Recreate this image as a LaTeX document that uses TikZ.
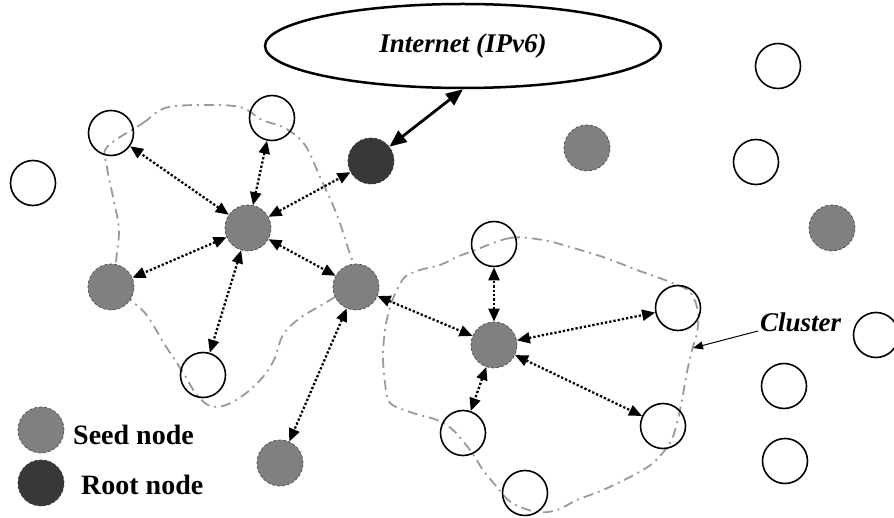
\documentclass[tikz,border=0pt]{standalone}
\usepackage{fontspec}
\setmainfont{Liberation Serif}
\usetikzlibrary{arrows.meta,shapes.geometric}

\definecolor{seedgray}{HTML}{808080}
\definecolor{rootgray}{HTML}{383838}
\definecolor{clustergray}{HTML}{9A9A9A}

\begin{document}
\begin{tikzpicture}[x=1pt,y=-1pt,
  hostnode/.style={circle, draw=black, line width=1.6pt, minimum size=45pt, inner sep=0pt},
  seednode/.style={circle, draw=black!70, fill=seedgray, line width=0.7pt, densely dashed, minimum size=46pt, inner sep=0pt},
  rootnode/.style={circle, draw=black!80, fill=rootgray, line width=0.7pt, densely dashed, minimum size=46pt, inner sep=0pt},
  link/.style={line width=2.3pt, dash pattern=on 2.3pt off 2pt,
    {Triangle[length=13pt,width=11pt]}-{Triangle[length=13pt,width=11pt]}},
  uplink/.style={line width=2.8pt, {Triangle[length=17pt,width=14pt]}-{Triangle[length=17pt,width=14pt]}},
  boundary/.style={clustergray, line width=1.8pt, dash pattern=on 10pt off 5pt on 2pt off 5pt},
  caption/.style={font=\fontsize{28}{30}\selectfont\bfseries, inner sep=0pt},
  slanted/.style={font=\fontsize{27}{29}\selectfont\bfseries\itshape, inner sep=0pt}]

\fill[white] (0,0) rectangle (894,518);
\useasboundingbox (0,0) rectangle (894,518);

% cluster outlines
\draw[boundary] plot[smooth cycle, tension=0.55] coordinates {
  (107,147) (143,123) (165,108) (200,105) (240,107) (262,120) (285,128)
  (305,145) (320,177) (335,210) (347,245) (356,282) (330,300) (300,318)
  (283,335) (274,360) (262,378) (245,394) (226,405) (210,406) (196,394)
  (184,374) (165,345) (145,313) (120,290) (116,265) (119,230) (113,197)
  (107,167)};
\draw[boundary] plot[smooth cycle, tension=0.55] coordinates {
  (470,252) (510,238) (543,240) (570,247) (603,257) (637,270) (670,282)
  (690,292) (698,312) (697,333) (692,350) (687,372) (682,400) (677,423)
  (670,443) (653,463) (630,477) (603,490) (577,500) (557,510) (537,512)
  (512,503) (497,487) (483,470) (470,450) (453,430) (437,420) (413,413)
  (390,403) (385,383) (383,357) (385,330) (390,307) (397,290) (405,277)
  (420,270) (440,265) (457,257)};

% Internet cloud
\node[ellipse, draw=black, line width=2.5pt, minimum width=396pt, minimum height=84pt, inner sep=0pt, slanted] (inet) at (463,46) {Internet (IPv6)};

% left cluster
\node[hostnode] (w1) at (111,133) {};
\node[hostnode] (w2) at (272,118) {};
\node[hostnode] (w0) at (33,183) {};
\node[seednode] (s1) at (248,228) {};
\node[rootnode] (root) at (371,161) {};
\node[seednode] (s2) at (111,287) {};
\node[seednode] (s3) at (356,287) {};
\node[hostnode] (w3) at (203,375) {};
\node[seednode] (s4) at (280,463) {};

% right cluster
\node[hostnode] (w4) at (494,244) {};
\node[seednode] (s5) at (494,345) {};
\node[hostnode] (w5) at (678,308) {};
\node[hostnode] (w6) at (663,426) {};
\node[hostnode] (w7) at (463,433) {};
\node[hostnode] (w8) at (525,493) {};

% unclustered nodes
\node[seednode] (s6) at (587,148) {};
\node[hostnode] (w9) at (778,66) {};
\node[hostnode] (w10) at (756,162) {};
\node[seednode] (s7) at (832,228) {};
\node[hostnode] (w11) at (876,335) {};
\node[hostnode] (w12) at (784,386) {};
\node[hostnode] (w13) at (785,461) {};

% links
\draw[uplink] (inet.south) -- (root);
\draw[link] (s1) -- (w1);
\draw[link] (s1) -- (w2);
\draw[link] (s1) -- (root);
\draw[link] (s1) -- (s2);
\draw[link] (s1) -- (s3);
\draw[link] (s1) -- (w3);
\draw[link] (s3) -- (s5);
\draw[link] (s3) -- (s4);
\draw[link] (s5) -- (w4);
\draw[link] (s5) -- (w5);
\draw[link] (s5) -- (w6);
\draw[link] (s5) -- (w7);

% cluster label
\node[slanted, anchor=west] (clusterlabel) at (760,322) {Cluster};
\coordinate (clustertip) at (693,348);
\draw[line width=1pt, -{Triangle[length=10pt,width=8pt]}] ([xshift=-2pt,yshift=-9pt]clusterlabel.west) -- (clustertip);

% legend
\node[seednode] (keyseed) at (41,430) {};
\node[rootnode] (keyroot) at (41,483) {};
\node[caption, anchor=west] (keyseedtext) at (73,435) {Seed node};
\node[caption, anchor=west] (keyroottext) at (81,485) {Root node};
\end{tikzpicture}
\end{document}
